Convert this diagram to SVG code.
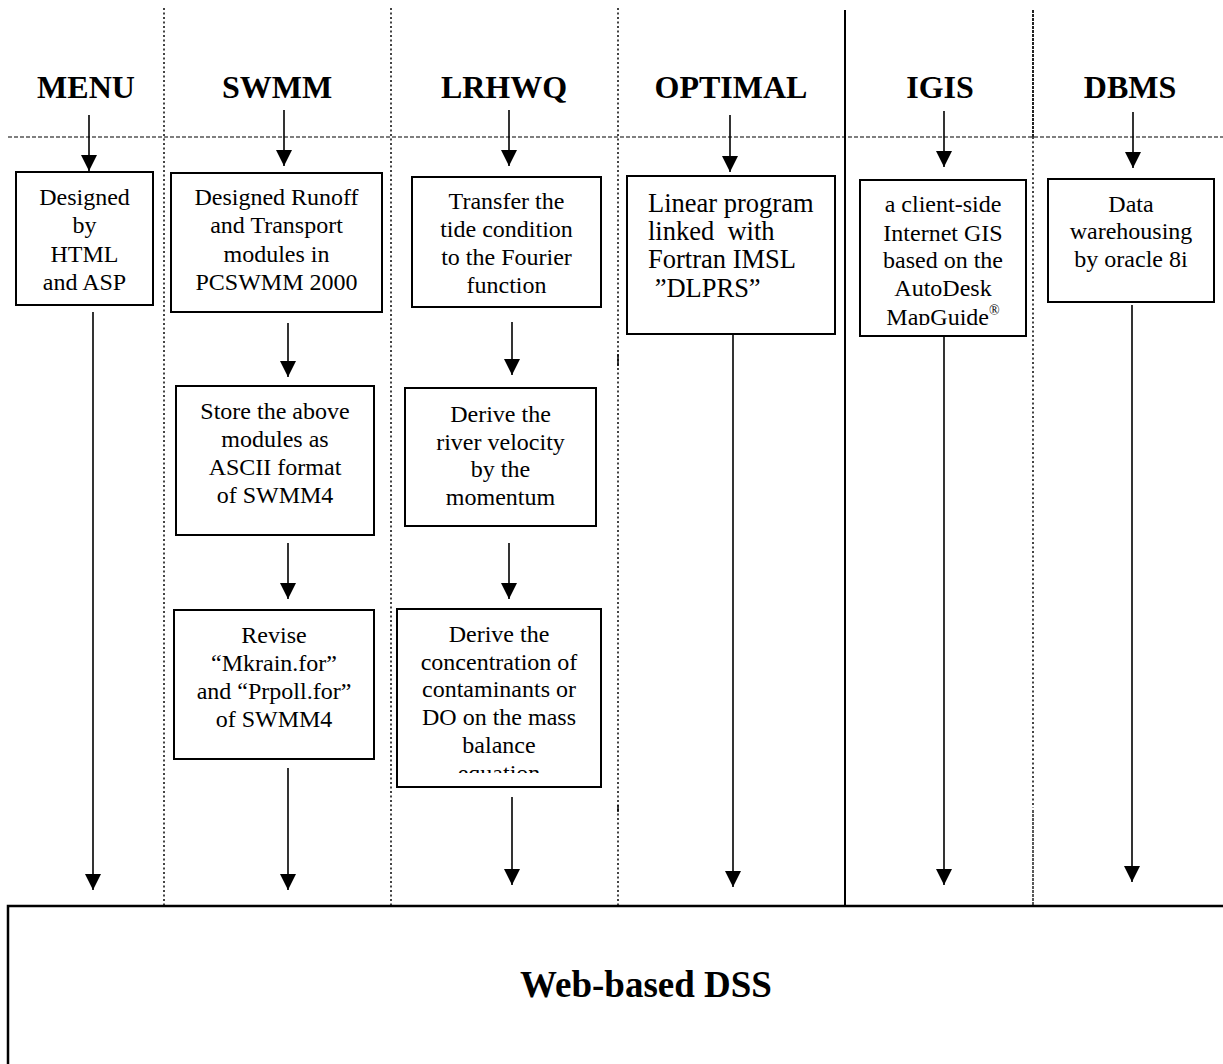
<svg xmlns="http://www.w3.org/2000/svg" width="1223" height="1064" viewBox="0 0 1223 1064">
<style>
.hdr{font-family:"Liberation Serif","Times New Roman",serif;font-weight:bold;font-size:32px;fill:#000;text-anchor:middle}
.t{font-family:"Liberation Serif","Times New Roman",serif;font-size:24px;fill:#000;text-anchor:middle}
.tl{font-family:"Liberation Serif","Times New Roman",serif;font-size:26.5px;fill:#000}
.box{fill:#fff;stroke:#000;stroke-width:2}
.dot{stroke:#444;stroke-width:2;stroke-dasharray:2 2.5;fill:none}
.dash{stroke:#555;stroke-width:1.5;stroke-dasharray:4 2;fill:none}
.arr{stroke:#000;stroke-width:1.6;fill:none;marker-end:url(#ah)}
</style>
<defs>
<marker id="ah" markerUnits="userSpaceOnUse" markerWidth="16" markerHeight="16" viewBox="0 0 16 16" refX="16" refY="8" orient="auto">
<path d="M0,0 L16,8 L0,16 z" fill="#000"/>
</marker>
<clipPath id="clipL3"><rect x="397" y="609" width="204" height="164"/></clipPath>
<clipPath id="clipIG"><rect x="860" y="180" width="166" height="145"/></clipPath>
</defs>
<rect width="1223" height="1064" fill="#fff"/>

<g id="separators">
<line class="dash" x1="8" y1="137" x2="1223" y2="137"/>
<line class="dot" x1="164" y1="8" x2="164" y2="906"/>
<line class="dot" x1="391" y1="8" x2="391" y2="906"/>
<line class="dot" x1="618" y1="8" x2="618" y2="906"/>
<line x1="618" y1="354" x2="618" y2="366" stroke="#000" stroke-width="1.5"/>
<line x1="618" y1="805" x2="618" y2="812" stroke="#000" stroke-width="1.5"/>
<line x1="845" y1="10" x2="845" y2="906" stroke="#000" stroke-width="2"/>
<line x1="1033" y1="10" x2="1033" y2="137" stroke="#222" stroke-width="2" stroke-dasharray="3 1"/>
<line class="dot" x1="1033" y1="137" x2="1033" y2="808"/>
<line x1="1033" y1="810" x2="1033" y2="906" stroke="#222" stroke-width="1.5" stroke-dasharray="3 1"/>
</g>

<g id="headers">
<text class="hdr" x="86" y="98">MENU</text>
<text class="hdr" x="277" y="98">SWMM</text>
<text class="hdr" x="504" y="98">LRHWQ</text>
<text class="hdr" x="731" y="98">OPTIMAL</text>
<text class="hdr" x="940" y="98">IGIS</text>
<text class="hdr" x="1130" y="98">DBMS</text>
</g>

<g id="connectors">
<line class="arr" x1="89" y1="115" x2="89" y2="171"/>
<line class="arr" x1="284" y1="110" x2="284" y2="166"/>
<line class="arr" x1="509" y1="110" x2="509" y2="166"/>
<line class="arr" x1="730" y1="115" x2="730" y2="172"/>
<line class="arr" x1="944" y1="111" x2="944" y2="167"/>
<line class="arr" x1="1133" y1="112" x2="1133" y2="168"/>
<line class="arr" x1="93" y1="312" x2="93" y2="890"/>
<line class="arr" x1="288" y1="323" x2="288" y2="377"/>
<line class="arr" x1="288" y1="543" x2="288" y2="599"/>
<line class="arr" x1="288" y1="768" x2="288" y2="890"/>
<line class="arr" x1="512" y1="322" x2="512" y2="375"/>
<line class="arr" x1="509" y1="543" x2="509" y2="599"/>
<line class="arr" x1="512" y1="797" x2="512" y2="885"/>
<line class="arr" x1="733" y1="334" x2="733" y2="887"/>
<line class="arr" x1="944" y1="336" x2="944" y2="885"/>
<line class="arr" x1="1132" y1="305" x2="1132" y2="882"/>
</g>

<g id="menu-box">
<rect class="box" x="16" y="172" width="137" height="133"/>
<text class="t" x="84.5" y="205">Designed</text>
<text class="t" x="84.5" y="233">by</text>
<text class="t" x="84.5" y="262">HTML</text>
<text class="t" x="84.5" y="290">and ASP</text>
</g>

<g id="swmm-box1">
<rect class="box" x="171" y="173" width="211" height="139"/>
<text class="t" x="276.5" y="205">Designed Runoff</text>
<text class="t" x="276.5" y="233">and Transport</text>
<text class="t" x="276.5" y="262">modules in</text>
<text class="t" x="276.5" y="290">PCSWMM 2000</text>
</g>

<g id="swmm-box2">
<rect class="box" x="176" y="386" width="198" height="149"/>
<text class="t" x="275" y="419">Store the above</text>
<text class="t" x="275" y="447">modules as</text>
<text class="t" x="275" y="475">ASCII format</text>
<text class="t" x="275" y="503">of SWMM4</text>
</g>

<g id="swmm-box3">
<rect class="box" x="174" y="610" width="200" height="149"/>
<text class="t" x="274" y="643">Revise</text>
<text class="t" x="274" y="671">“Mkrain.for”</text>
<text class="t" x="274" y="699">and “Prpoll.for”</text>
<text class="t" x="274" y="727">of SWMM4</text>
</g>

<g id="lrhwq-box1">
<rect class="box" x="412" y="177" width="189" height="130"/>
<text class="t" x="506.5" y="209">Transfer the</text>
<text class="t" x="506.5" y="237">tide condition</text>
<text class="t" x="506.5" y="265">to the Fourier</text>
<text class="t" x="506.5" y="293">function</text>
</g>

<g id="lrhwq-box2">
<rect class="box" x="405" y="388" width="191" height="138"/>
<text class="t" x="500.5" y="422">Derive the</text>
<text class="t" x="500.5" y="450">river velocity</text>
<text class="t" x="500.5" y="477">by the</text>
<text class="t" x="500.5" y="505">momentum</text>
</g>

<g id="lrhwq-box3">
<rect class="box" x="397" y="609" width="204" height="178"/>
<g clip-path="url(#clipL3)">
<text class="t" x="499" y="642">Derive the</text>
<text class="t" x="499" y="670">concentration of</text>
<text class="t" x="499" y="697">contaminants or</text>
<text class="t" x="499" y="725">DO on the mass</text>
<text class="t" x="499" y="753">balance</text>
<text class="t" x="499" y="781">equation</text>
</g>
</g>

<g id="optimal-box">
<rect class="box" x="627" y="176" width="208" height="158"/>
<text class="tl" x="648" y="212">Linear program</text>
<text class="tl" x="648" y="240" xml:space="preserve">linked  with</text>
<text class="tl" x="648" y="268">Fortran IMSL</text>
<text class="tl" x="648" y="297" xml:space="preserve"> ”DLPRS”</text>
</g>

<g id="igis-box">
<rect class="box" x="860" y="180" width="166" height="156"/>
<g clip-path="url(#clipIG)">
<text class="t" x="943" y="212">a client-side</text>
<text class="t" x="943" y="241">Internet GIS</text>
<text class="t" x="943" y="268">based on the</text>
<text class="t" x="943" y="296">AutoDesk</text>
<text class="t" x="943" y="325">MapGuide<tspan font-size="14" dy="-10">®</tspan></text>
</g>
</g>

<g id="dbms-box">
<rect class="box" x="1048" y="179" width="166" height="123"/>
<text class="t" x="1131" y="212">Data</text>
<text class="t" x="1131" y="239">warehousing</text>
<text class="t" x="1131" y="267">by oracle 8i</text>
</g>

<g id="web-dss">
<rect x="8" y="906" width="1230" height="200" fill="none" stroke="#000" stroke-width="2.5"/>
<text x="646" y="997" font-family="'Liberation Serif','Times New Roman',serif" font-weight="bold" font-size="37" text-anchor="middle">Web-based DSS</text>
</g>
</svg>
